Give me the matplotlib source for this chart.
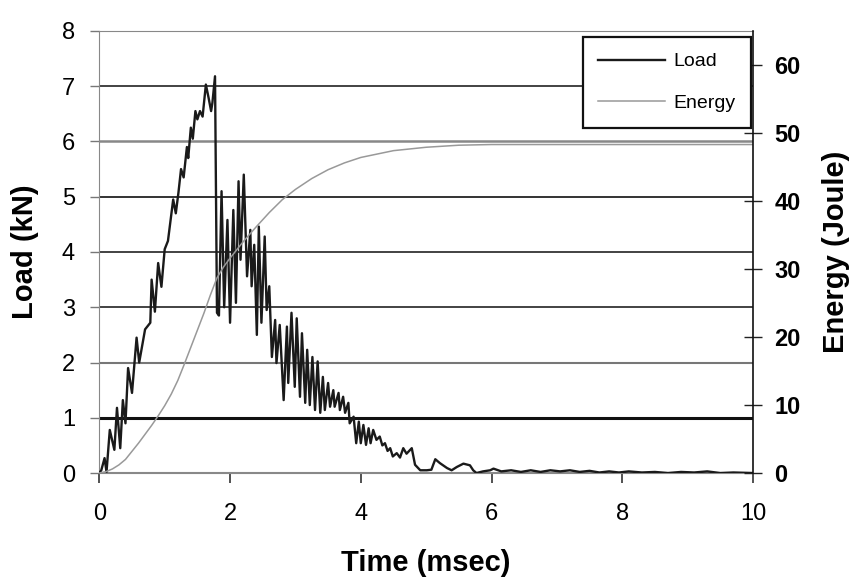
import matplotlib.pyplot as plt

plt.rcParams['font.family'] = ['Liberation Sans', 'DejaVu Sans']

# load trace (msec, kN)
load_t = [0.00, 0.03, 0.08, 0.11, 0.16, 0.23, 0.27, 0.32, 0.36, 0.40, 0.44, 0.50,
          0.57, 0.61, 0.70, 0.78, 0.80, 0.85, 0.90, 0.95, 1.00, 1.05, 1.13, 1.17,
          1.21, 1.25, 1.29, 1.34, 1.36, 1.40, 1.43, 1.47, 1.50, 1.54, 1.58, 1.63,
          1.67, 1.71, 1.73, 1.77, 1.80, 1.83, 1.87, 1.91, 1.96, 2.00, 2.05, 2.09,
          2.13, 2.16, 2.21, 2.26, 2.31, 2.33, 2.37, 2.41, 2.44, 2.48, 2.53, 2.56,
          2.60, 2.64, 2.69, 2.71, 2.76, 2.82, 2.87, 2.89, 2.94, 2.99, 3.02, 3.07,
          3.10, 3.15, 3.18, 3.22, 3.26, 3.30, 3.34, 3.38, 3.42, 3.45, 3.50, 3.53,
          3.58, 3.60, 3.66, 3.68, 3.73, 3.76, 3.81, 3.83, 3.89, 3.93, 3.97, 4.00,
          4.04, 4.08, 4.12, 4.15, 4.19, 4.24, 4.29, 4.33, 4.37, 4.41, 4.45, 4.49,
          4.55, 4.60, 4.65, 4.70, 4.78, 4.83, 4.91, 5.01, 5.08, 5.14, 5.21, 5.32,
          5.39, 5.47, 5.57, 5.67, 5.72, 5.77, 5.87, 5.98, 6.03, 6.15, 6.30, 6.45,
          6.60, 6.75, 6.90, 7.05, 7.20, 7.35, 7.50, 7.65, 7.80, 7.95, 8.10, 8.30,
          8.50, 8.70, 8.90, 9.10, 9.30, 9.50, 9.70, 10.00]
load_kn = [0.00, 0.05, 0.27, 0.02, 0.78, 0.42, 1.18, 0.45, 1.32, 0.90, 1.90, 1.45,
           2.45, 2.00, 2.60, 2.72, 3.50, 2.92, 3.80, 3.37, 4.05, 4.20, 4.95, 4.70,
           5.07, 5.50, 5.35, 5.90, 5.70, 6.25, 6.05, 6.55, 6.40, 6.55, 6.45, 7.03,
           6.80, 6.55, 6.70, 7.18, 2.90, 2.85, 5.10, 3.00, 4.58, 2.72, 4.76, 3.08,
           5.28, 3.86, 5.40, 3.56, 4.40, 3.38, 4.13, 2.50, 4.46, 2.72, 4.28, 2.95,
           3.38, 2.10, 2.77, 1.99, 2.68, 1.32, 2.65, 1.63, 2.90, 1.56, 2.80, 1.38,
           2.53, 1.27, 2.23, 1.23, 2.10, 1.14, 2.02, 1.09, 1.74, 1.14, 1.63, 1.20,
           1.50, 1.20, 1.45, 1.14, 1.38, 1.09, 1.27, 0.90, 1.02, 0.54, 0.93, 0.54,
           0.87, 0.51, 0.81, 0.54, 0.78, 0.60, 0.66, 0.50, 0.54, 0.40, 0.45, 0.30,
           0.36, 0.28, 0.45, 0.35, 0.45, 0.15, 0.05, 0.05, 0.06, 0.25, 0.18, 0.09,
           0.05, 0.11, 0.17, 0.14, 0.05, 0.00, 0.03, 0.05, 0.08, 0.03, 0.05, 0.02,
           0.05, 0.02, 0.05, 0.03, 0.05, 0.02, 0.04, 0.01, 0.03, 0.01, 0.03, 0.01,
           0.02, 0.00, 0.02, 0.01, 0.03, 0.00, 0.01, 0.00]

# absorbed energy (msec, Joule)
energy_t = [0.0, 0.1, 0.2, 0.3, 0.4, 0.5, 0.6, 0.7, 0.8, 0.9, 1.0, 1.1, 1.2, 1.3,
            1.4, 1.5, 1.6, 1.7, 1.8, 1.9, 2.0, 2.2, 2.4, 2.6, 2.8, 3.0, 3.25, 3.5,
            3.75, 4.0, 4.5, 5.0, 5.5, 6.0, 10.0]
energy_j = [0.0, 0.2, 0.6, 1.2, 2.0, 3.2, 4.4, 5.7, 7.0, 8.4, 9.9, 11.6, 13.6, 16.0,
            18.5, 21.0, 23.5, 26.2, 28.7, 30.3, 31.6, 34.0, 36.2, 38.3, 40.2, 41.7,
            43.3, 44.6, 45.6, 46.4, 47.4, 47.9, 48.2, 48.3, 48.3]

load_ticks = [0, 1, 2, 3, 4, 5, 6, 7, 8]
energy_ticks = [0, 10, 20, 30, 40, 50, 60]
time_ticks = [0, 2, 4, 6, 8, 10]

# the scanned gridlines are not all the same shade
grid_colors = ['#8a8a8a', '#111111', '#777777', '#222222', '#222222', '#333333', '#888888', '#222222', '#aaaaaa']
grid_widths = [1.5, 2.2, 1.5, 1.2, 1.2, 1.4, 1.8, 1.2, 1.2]

fig = plt.figure(figsize=(8.57, 5.84), dpi=100)
ax = fig.add_axes([0.1159, 0.190, 0.7627, 0.757])
ax2 = ax.twinx()

for lvl, c, w in zip(load_ticks, grid_colors, grid_widths):
    ax.axhline(lvl, color=c, linewidth=w, zorder=0)

l1, = ax.plot(load_t, load_kn, color='#1a1a1a', linewidth=1.7, label='Load', zorder=3)
l2, = ax2.plot(energy_t, energy_j, color='#999999', linewidth=1.1, label='Energy', zorder=2)

ax.set_xlim(0, 10)
ax.set_ylim(0, 8)
ax2.set_ylim(0, 65)
ax.set_xticks(time_ticks)
ax.set_yticks(load_ticks)
ax2.set_yticks(energy_ticks)

ax.tick_params(axis='y', direction='out', length=6.5, width=1, color='#777777', labelsize=17, pad=11)
ax.tick_params(axis='x', direction='out', length=7.5, width=1.2, color='#333333', labelsize=17, pad=14)
ax2.tick_params(axis='y', direction='inout', length=13, width=1, color='#222222', labelsize=17, pad=9)
for lab in ax2.get_yticklabels():
    lab.set_fontweight('bold')

for s in ['left', 'top', 'bottom']:
    ax.spines[s].set_color('#888888')
    ax2.spines[s].set_visible(False)
ax.spines['right'].set_visible(False)
ax2.spines['right'].set_color('#111111')
ax2.spines['right'].set_linewidth(1.2)

ax.set_xlabel('Time (msec)', fontsize=21, fontweight='bold')
ax.set_ylabel('Load (kN)', fontsize=21, fontweight='bold')
ax2.set_ylabel('Energy (Joule)', fontsize=21, fontweight='bold')
ax.xaxis.set_label_coords(0.5, -0.172)
ax.yaxis.set_label_coords(-0.092, 0.5)
ax2.yaxis.set_label_coords(1.106, 0.5)

leg = ax2.legend([l1, l2], ['Load', 'Energy'], loc='upper right', bbox_to_anchor=(0.997, 0.986),
                 borderaxespad=0, fontsize=14, handlelength=3.4, handletextpad=0.45,
                 labelspacing=1.25, borderpad=0.8, fancybox=False, framealpha=1,
                 edgecolor='#111111')
leg.get_frame().set_linewidth(1.6)

plt.savefig('out.png', dpi=100)
